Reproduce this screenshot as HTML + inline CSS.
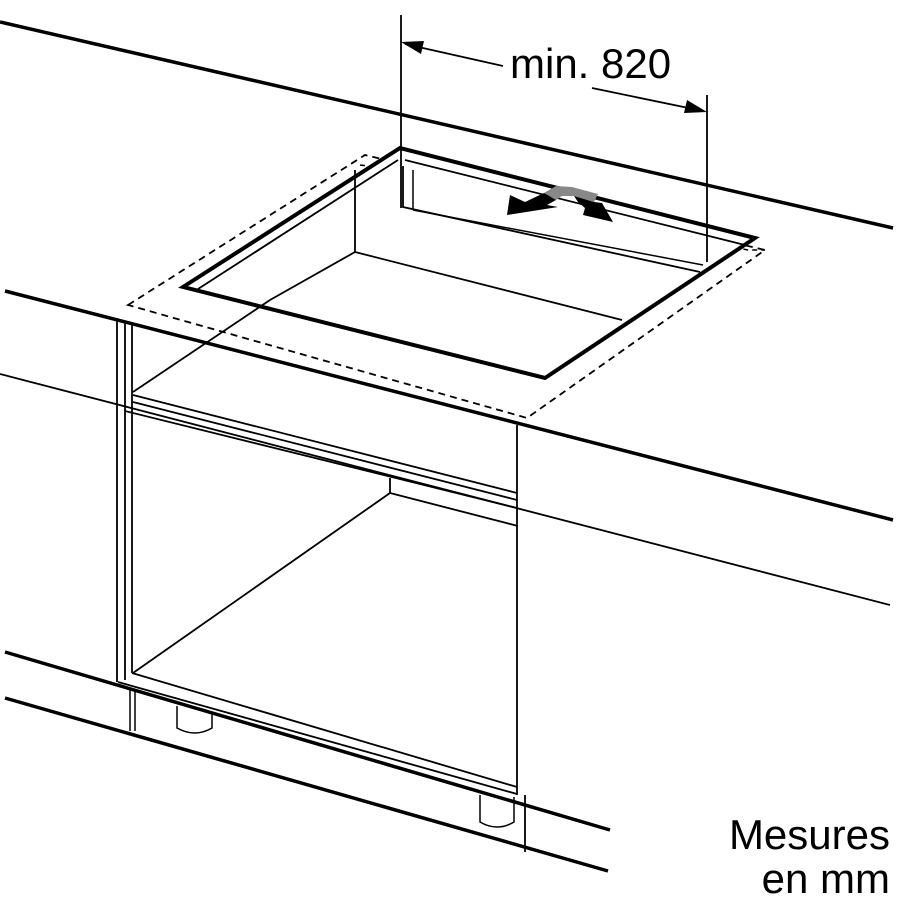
<!DOCTYPE html>
<html><head><meta charset="utf-8"><style>
html,body{margin:0;padding:0;background:#fff;}
svg{display:block}
text{font-family:"Liberation Sans",sans-serif;fill:#000}
</style></head><body>
<svg width="899" height="900" viewBox="0 0 899 900" xmlns="http://www.w3.org/2000/svg">
<g fill="none" stroke="#000" stroke-linecap="butt">
<line x1="0" y1="22" x2="893" y2="228" stroke-width="3.5"/>
<line x1="5" y1="291" x2="893" y2="520" stroke-width="3.5"/>
<line x1="0" y1="374" x2="890" y2="605" stroke-width="1.8"/>
<line x1="5" y1="652" x2="610" y2="830" stroke-width="3.5"/>
<line x1="5" y1="698" x2="608" y2="871" stroke-width="3.5"/>

<polygon points="128,305 365,155 765,250 527,418" stroke-width="1.8" stroke-dasharray="7,5"/>
<polyline points="360,165 400,170" stroke-width="1.5" stroke-dasharray="5,4"/>
<polyline points="708,242 748,250 765,250" stroke-width="1.5" stroke-dasharray="5,4"/>

<polygon points="183,287 400,148 755,238 545,378" fill="#fff" stroke="none"/>
<polygon points="183,287 400,148 755,238 545,378" stroke-width="4"/>
<line x1="198" y1="289" x2="398" y2="160" stroke-width="1.8"/>
<line x1="405" y1="160" x2="745" y2="245" stroke-width="1.8"/>
<line x1="355" y1="170" x2="355" y2="252" stroke-width="1.8"/>
<line x1="355" y1="252" x2="622" y2="320" stroke-width="1.8"/>
<line x1="355" y1="252" x2="270" y2="300" stroke-width="1.8"/>
<polyline points="403,166 403,207 700,272" stroke-width="1.8"/>
<polyline points="413,170 413,210" stroke-width="1.5"/>
<line x1="413" y1="210" x2="703" y2="265" stroke-width="1.5"/>

<line x1="401" y1="15" x2="401" y2="208" stroke-width="1.8"/>
<line x1="707" y1="95" x2="707" y2="262" stroke-width="1.8"/>
<line x1="405" y1="44" x2="503" y2="66" stroke-width="1.8"/>
<line x1="592" y1="88" x2="703" y2="111" stroke-width="1.8"/>

<line x1="117" y1="318" x2="117" y2="682" stroke-width="1.8"/>
<line x1="125" y1="322" x2="125" y2="680" stroke-width="1.8"/>
<line x1="132" y1="325" x2="132" y2="673" stroke-width="1.8"/>
<line x1="133" y1="392" x2="270" y2="300" stroke-width="1.8"/>
<line x1="133" y1="395" x2="517" y2="493" stroke-width="1.8"/>
<line x1="133" y1="402" x2="517" y2="500" stroke-width="1.8"/>
<line x1="125" y1="411" x2="517" y2="508" stroke-width="1.8"/>
<line x1="390" y1="478" x2="390" y2="493" stroke-width="1.8"/>
<line x1="390" y1="493" x2="518" y2="526" stroke-width="1.8"/>
<line x1="390" y1="493" x2="133" y2="673" stroke-width="1.8"/>
<line x1="132" y1="673" x2="517" y2="787" stroke-width="1.8"/>
<line x1="118" y1="682" x2="517" y2="794" stroke-width="1.8"/>
<line x1="517" y1="425" x2="517" y2="795" stroke-width="1.8"/>
<line x1="525" y1="795" x2="525" y2="852" stroke-width="1.8"/>
<line x1="130" y1="690" x2="130" y2="731" stroke-width="1.5"/>
<line x1="135" y1="690" x2="135" y2="731" stroke-width="1.5"/>
<path d="M177,706 V728 Q195,738 212,728 V713" stroke-width="1.5"/>
<path d="M480,795 V822 Q497,832 514,822 V797" stroke-width="1.5"/>
</g>
<polygon points="401,42 424,41 421,54" fill="#000"/>
<polygon points="707,112 684,113 687,100" fill="#000"/>
<!-- move arrows -->
<polygon points="544,193 556,186 572,187 598,194 594,202 574,196 562,196 556,200" fill="#888"/>
<polygon points="544,193 556,200 547,205 558,207 507,215 510,195 525,202" fill="#000"/>
<polygon points="574,196 594,202 602,203 613,222 583,215 585,208 578,202" fill="#000"/>
<text x="510" y="78" font-size="42">min. 820</text>
<text x="890" y="849" font-size="42" text-anchor="end">Mesures</text>
<text x="890" y="893" font-size="42" text-anchor="end">en mm</text>
</svg>
</body></html>
